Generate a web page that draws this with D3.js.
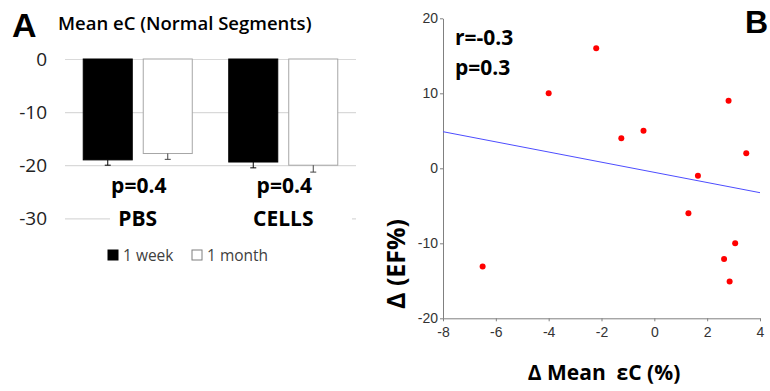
<!DOCTYPE html>
<html>
<head>
<meta charset="utf-8">
<script src="https://cdn.jsdelivr.net/npm/d3@7"></script>
<style>
html,body{margin:0;padding:0;background:#fff;}
svg{display:block;}
</style>
</head>
<body>
<svg id="chart" width="770" height="391"></svg>
<script>
// ---------- Panel A data ----------
const groups = ["PBS", "CELLS"];
const periods = ["1 week", "1 month"];
const weekValues = [-19.0, -19.4];
const monthValues = [-17.8, -20.0];
const weekErrors = [1.0, 1.1];
const monthErrors = [1.1, 1.3];
const pLabelsA = ["p=0.4", "p=0.4"];
const yTicksA = [0, -10, -20, -30];

// ---------- Panel B data ----------
const dMeanEC = [-4.0, -2.2, -1.25, -0.41, 2.81, 3.48, 1.65, 1.29, 3.06, 2.64, 2.85, -6.5];
const dEF =     [10,   16,   4,     5,     9,    2,    -1,   -6,   -10,  -12.1, -15.1, -13.1];
const fitX = [-8, 4];
const fitY = [4.88, -3.25];
const xTicksB = [-8, -6, -4, -2, 0, 2, 4];
const yTicksB = [-20, -10, 0, 10, 20];

const svg = d3.select("#chart");
const calibri = "'Open Sans', 'Noto Sans', sans-serif";
const arial = "'Liberation Sans', Arial, sans-serif";

// ================= Panel A =================
const yA = d3.scaleLinear().domain([-30, 0]).range([218.3, 59]);
const xA = d3.scaleBand().domain(groups).range([65, 356]).padding(0);
const xSub = d3.scaleBand().domain(periods).range([0, xA.bandwidth()])
  .paddingInner(0.183).paddingOuter(0.304);

const gA = svg.append("g");

// gridlines
const gridA = d3.axisLeft(yA).tickValues(yTicksA).tickSize(-(356 - 65)).tickFormat("");
gA.append("g").attr("transform", "translate(65,0)").call(gridA)
  .call(g => g.select(".domain").remove())
  .call(g => g.selectAll("line").attr("stroke", "#d9d9d9").attr("stroke-width", 1.2));

// tick labels
gA.selectAll("text.ytA").data(yTicksA).join("text")
  .attr("class", "ytA")
  .attr("x", 47).attr("y", d => yA(d)).attr("dy", "0.36em")
  .attr("text-anchor", "end")
  .style("font-family", calibri).style("font-size", "19px").attr("fill", "#222")
  .text(d => String(d));

// bars
const barData = [];
groups.forEach((g, i) => {
  barData.push({group: g, period: periods[0], v: weekValues[i], e: weekErrors[i]});
  barData.push({group: g, period: periods[1], v: monthValues[i], e: monthErrors[i]});
});
const bx = d => xA(d.group) + xSub(d.period);
gA.selectAll("rect.bar").data(barData).join("rect")
  .attr("class", "bar")
  .attr("x", bx)
  .attr("y", yA(0))
  .attr("width", xSub.bandwidth())
  .attr("height", d => yA(d.v) - yA(0))
  .attr("fill", d => d.period === periods[0] ? "#000" : "#fff")
  .attr("stroke", d => d.period === periods[0] ? "#000" : "#a6a6a6")
  .attr("stroke-width", 1);

// error bars (lower)
const errG = gA.selectAll("g.err").data(barData).join("g").attr("class", "err")
  .attr("stroke", d => d.period === periods[0] ? "#000" : "#444")
  .attr("stroke-width", 1);
errG.append("line")
  .attr("x1", d => bx(d) + xSub.bandwidth() / 2).attr("x2", d => bx(d) + xSub.bandwidth() / 2)
  .attr("y1", d => yA(d.v)).attr("y2", d => yA(d.v - d.e));
errG.append("line")
  .attr("x1", d => bx(d) + xSub.bandwidth() / 2 - 3).attr("x2", d => bx(d) + xSub.bandwidth() / 2 + 3)
  .attr("y1", d => yA(d.v - d.e)).attr("y2", d => yA(d.v - d.e));

// white mask behind category labels
gA.append("rect").attr("x", 110).attr("y", yA(-30) - 12).attr("width", 242).attr("height", 24).attr("fill", "#fff");

// p labels
gA.selectAll("text.pA").data(groups).join("text")
  .attr("class", "pA")
  .attr("x", d => xA(d) + xA.bandwidth() / 2 + 1).attr("y", 193)
  .attr("text-anchor", "middle")
  .style("font-family", calibri).style("font-size", "21px").style("font-weight", "700").attr("fill", "#000")
  .text((d, i) => pLabelsA[i]);

// category labels
gA.selectAll("text.catA").data(groups).join("text")
  .attr("class", "catA")
  .attr("x", d => xA(d) + xA.bandwidth() / 2).attr("y", yA(-30)).attr("dy", "0.36em")
  .attr("text-anchor", "middle")
  .style("font-family", calibri).style("font-size", "21px").style("font-weight", "700").attr("fill", "#000")
  .text(d => d);

// legend
const legend = gA.append("g");
const legItems = [{label: periods[0], x: 108, fill: "#000", stroke: "#000"},
                  {label: periods[1], x: 192, fill: "#fff", stroke: "#7f7f7f"}];
legItems.forEach(it => {
  legend.append("rect").attr("x", it.x).attr("y", 250).attr("width", 10).attr("height", 10)
    .attr("fill", it.fill).attr("stroke", it.stroke).attr("stroke-width", 1);
  legend.append("text").attr("x", it.x + 15).attr("y", 261)
    .style("font-family", calibri).style("font-size", "15.5px").attr("fill", "#404040")
    .text(it.label);
});

// title and panel letter
gA.append("text").attr("x", 12).attr("y", 37)
  .style("font-family", arial).style("font-size", "34px").style("font-weight", "700").text("A");
gA.append("text").attr("x", 58).attr("y", 30)
  .style("font-family", calibri).style("font-size", "18.5px").style("font-weight", "600").attr("fill", "#000")
  .text("Mean eC (Normal Segments)");

// ================= Panel B =================
const xB = d3.scaleLinear().domain([-8, 4]).range([443, 760]);
const yB = d3.scaleLinear().domain([-20, 20]).range([318.3, 18.3]);
const gB = svg.append("g");

const styleAxis = g => {
  g.select(".domain").attr("stroke", "#808080");
  g.selectAll(".tick line").attr("stroke", "#808080");
  g.selectAll(".tick text").style("font-family", arial).style("font-size", "14px").attr("fill", "#333");
};
gB.append("g").attr("transform", `translate(0,${yB(-20)})`)
  .call(d3.axisBottom(xB).tickValues(xTicksB).tickFormat(d => String(d)).tickSize(3).tickSizeOuter(0).tickPadding(6))
  .call(styleAxis);
gB.append("g").attr("transform", `translate(${xB(-8)},0)`)
  .call(d3.axisLeft(yB).tickValues(yTicksB).tickFormat(d => String(d)).tickSize(3).tickSizeOuter(0).tickPadding(2))
  .call(styleAxis);

// fit line
gB.append("line")
  .attr("x1", xB(fitX[0])).attr("y1", yB(fitY[0]))
  .attr("x2", xB(fitX[1])).attr("y2", yB(fitY[1]))
  .attr("stroke", "#4d4dff").attr("stroke-width", 1);

// points
gB.selectAll("circle.pt").data(dMeanEC.map((x, i) => ({x, y: dEF[i]}))).join("circle")
  .attr("class", "pt")
  .attr("cx", d => xB(d.x)).attr("cy", d => yB(d.y)).attr("r", 3)
  .attr("fill", "#ff0000");

// r / p text
gB.append("text").attr("x", 455).attr("y", 45)
  .style("font-family", calibri).style("font-size", "21px").style("font-weight", "700").text("r=-0.3");
gB.append("text").attr("x", 455).attr("y", 75)
  .style("font-family", calibri).style("font-size", "21px").style("font-weight", "700").text("p=0.3");

// axis titles
gB.append("text").attr("x", 604).attr("y", 380).attr("text-anchor", "middle")
  .style("white-space", "pre")
  .style("font-family", calibri).style("font-size", "21px").style("font-weight", "700")
  .text("Δ Mean  εC (%)");
gB.append("text").attr("transform", "translate(405,264) rotate(-90)").attr("text-anchor", "middle")
  .style("font-family", calibri).style("font-size", "25px").style("font-weight", "700")
  .text("Δ (EF%)");

// panel letter B
gB.append("text").attr("x", 745).attr("y", 33)
  .style("font-family", arial).style("font-size", "32px").style("font-weight", "700").text("B");
</script>
</body>
</html>
